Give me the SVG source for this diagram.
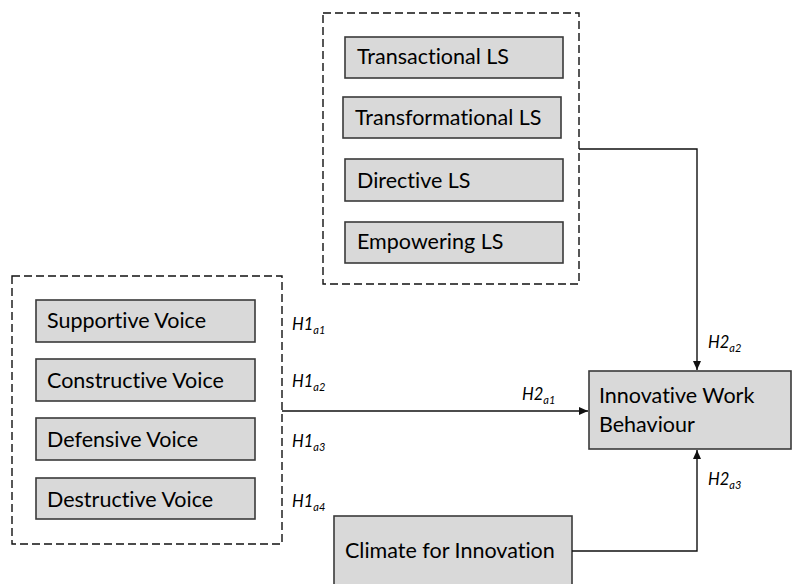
<svg xmlns="http://www.w3.org/2000/svg" width="793" height="584" viewBox="0 0 793 584">
<style>
.box{fill:#d9d9d9;stroke:#3a3a3a;stroke-width:1.6}
.grp{fill:none;stroke:#111;stroke-width:1.4;stroke-dasharray:8,4}
.t{font-family:Lato,"Open Sans",sans-serif;font-size:21.5px;fill:#000;font-variant-ligatures:none}
.h{font-family:Lato,"Open Sans",sans-serif;font-size:16.5px;font-style:italic;fill:#000}
.s{font-size:11px}
.c{fill:none;stroke:#111;stroke-width:1.4}
</style>
<defs>
<marker id="ah" markerWidth="10" markerHeight="10" refX="9" refY="5" orient="auto" markerUnits="userSpaceOnUse">
<path d="M0,1 L9,5 L0,9 Z" fill="#111"/>
</marker>
</defs>
<rect width="793" height="584" fill="#fff"/>
<g id="leadership-group">
<rect class="grp" x="323" y="13" width="256" height="271"/>
</g>
<g id="transactional"><rect class="box" x="345" y="37" width="218" height="41"/><text class="t" x="357" y="64">Transactional LS</text></g>
<g id="transformational"><rect class="box" x="343" y="97" width="218" height="41"/><text class="t" x="355" y="125">Transformational LS</text></g>
<g id="directive"><rect class="box" x="345" y="159" width="218" height="42"/><text class="t" x="357" y="188">Directive LS</text></g>
<g id="empowering"><rect class="box" x="345" y="222" width="218" height="41"/><text class="t" x="357" y="249">Empowering LS</text></g>
<g id="voice-group">
<rect class="grp" x="12" y="276" width="270" height="268"/>
</g>
<g id="supportive"><rect class="box" x="36" y="300" width="219" height="42"/><text class="t" x="47" y="328">Supportive Voice</text></g>
<g id="constructive"><rect class="box" x="36" y="359" width="219" height="42"/><text class="t" x="47" y="388">Constructive Voice</text></g>
<g id="defensive"><rect class="box" x="36" y="418" width="219" height="42"/><text class="t" x="47" y="447">Defensive Voice</text></g>
<g id="destructive"><rect class="box" x="36" y="478" width="219" height="41"/><text class="t" x="47" y="507">Destructive Voice</text></g>
<g id="iwb"><rect class="box" x="589" y="371" width="202" height="78"/><text class="t" x="599" y="403">Innovative Work</text><text class="t" x="599" y="432">Behaviour</text></g>
<g id="climate"><rect class="box" x="334" y="516" width="238" height="80"/><text class="t" x="345" y="558">Climate for Innovation</text></g>
<g id="connectors">
<path class="c" d="M282,411 H588" marker-end="url(#ah)"/>
<path class="c" d="M579,149 H697 V370" marker-end="url(#ah)"/>
<path class="c" d="M572,551 H697 V450" marker-end="url(#ah)"/>
</g>
<g id="labels">
<text class="h" x="292" y="330">H1<tspan class="s" dy="4">a1</tspan></text>
<text class="h" x="292" y="387">H1<tspan class="s" dy="4">a2</tspan></text>
<text class="h" x="292" y="447">H1<tspan class="s" dy="4">a3</tspan></text>
<text class="h" x="292" y="507">H1<tspan class="s" dy="4">a4</tspan></text>
<text class="h" x="522" y="400">H2<tspan class="s" dy="4">a1</tspan></text>
<text class="h" x="708" y="348">H2<tspan class="s" dy="4">a2</tspan></text>
<text class="h" x="708" y="485">H2<tspan class="s" dy="4">a3</tspan></text>
</g>
</svg>
